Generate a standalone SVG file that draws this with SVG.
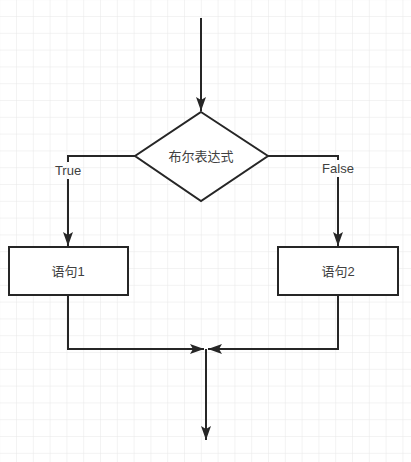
<svg xmlns="http://www.w3.org/2000/svg" width="411" height="462" viewBox="0 0 411 462">
<defs>
<pattern id="grid" x="0.2" y="0.2" width="16.8" height="16.8" patternUnits="userSpaceOnUse">
<path d="M16.8 0V16.8M0 16.8H16.8" fill="none" stroke="#e8e8e8" stroke-width="1"/>
</pattern>
<marker id="arrow" viewBox="0 0 14 10" refX="14" refY="5" markerWidth="14" markerHeight="10" markerUnits="userSpaceOnUse" orient="auto">
<path d="M0 0L14 5L0 10L3 5Z" fill="#262626"/>
</marker>
</defs>
<style>
.ln{fill:none;stroke:#262626;stroke-width:2}
.nd{fill:#fff;stroke:#262626;stroke-width:2}
.tx{font-family:"Liberation Sans","Noto Sans CJK SC",sans-serif;font-size:13px;fill:#404040;text-anchor:middle;dominant-baseline:central}
</style>
<rect width="411" height="462" fill="#fff"/>
<rect width="411" height="462" fill="url(#grid)"/>
<g id="connectors">
<path class="ln" d="M201 18V111" marker-end="url(#arrow)"/>
<path class="ln" d="M135 156H68V162"/>
<path class="ln" d="M68 179V246" marker-end="url(#arrow)"/>
<path class="ln" d="M268 156H338V160"/>
<path class="ln" d="M338 177V246" marker-end="url(#arrow)"/>
<path class="ln" d="M68 296V349H204" marker-end="url(#arrow)"/>
<path class="ln" d="M338 296V349H208" marker-end="url(#arrow)"/>
<path class="ln" d="M206 349V440" marker-end="url(#arrow)"/>
<text class="tx" x="68" y="170">True</text>
<text class="tx" x="338" y="168">False</text>
</g>
<g id="cond">
<path class="nd" d="M201 112L268 156L201 201L135 156Z"/>
<text class="tx" x="201" y="156">布尔表达式</text>
</g>
<g id="stmt1">
<rect class="nd" x="9" y="247" width="119" height="48"/>
<text class="tx" x="68" y="271">语句1</text>
</g>
<g id="stmt2">
<rect class="nd" x="278" y="247" width="120" height="48"/>
<text class="tx" x="338" y="271">语句2</text>
</g>
</svg>
